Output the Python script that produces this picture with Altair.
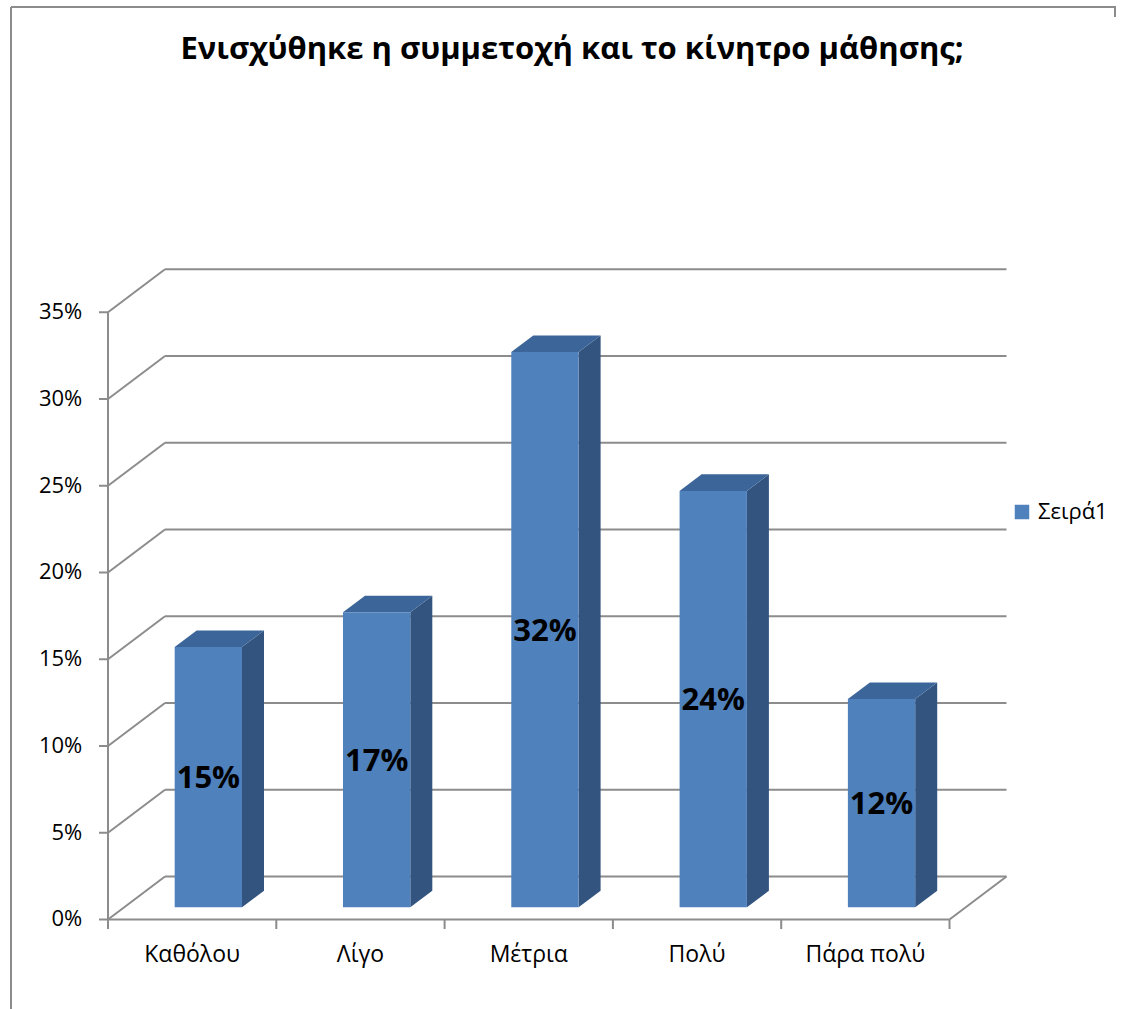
import altair as alt
import pandas as pd

# ---------------- data ----------------
categories = ["Καθόλου", "Λίγο", "Μέτρια", "Πολύ", "Πάρα πολύ"]
values = [15, 17, 32, 24, 12]
series_name = "Σειρά1"
y_ticks = [0, 5, 10, 15, 20, 25, 30, 35]
title_text = "Ενισχύθηκε η συμμετοχή και το κίνητρο μάθησης;"

# ---------------- geometry of the pseudo-3D frame ----------------
W, H = 1124, 1009
X_DOMAIN = [-0.6417, 6.0368]     # category units (front plane 0..5)
Y_DOMAIN = [-5.1585, 52.997]     # percent units (front plane)
DX = 0.3387                      # full depth, in category units
DY = 2.478                       # full depth, in percent units
K1, K2 = 0.284, 0.67             # bar front / back depth fraction
HALF = 0.2                       # half bar width (category units)
NCAT = len(categories)

FRONT = "#4F81BD"
TOP = "#3C6699"
SIDE = "#32547F"
GRID = "#8C8C8C"
FONT = "Open Sans"

xs = alt.Scale(domain=X_DOMAIN, nice=False, zero=False)
ys = alt.Scale(domain=Y_DOMAIN, nice=False, zero=False)

# ---------------- tables built from the arrays ----------------
bars = []
side = []
top = []
for i, (c, v) in enumerate(zip(categories, values)):
    xl = i + 0.5 - HALF + K1 * DX
    xr = i + 0.5 + HALF + K1 * DX
    yb = K1 * DY
    yt = v + K1 * DY
    dd = (K2 - K1) * DX
    dyy = (K2 - K1) * DY
    bars.append(dict(cat=c, series=series_name, xl=xl, xr=xr, yb=yb, yt=yt,
                     xm=(xl + xr) / 2, ym=(yb + yt) / 2, label=f"{v}%"))
    side.append(dict(cat=c, x=xr, y=yb, y2=yt))
    side.append(dict(cat=c, x=xr + dd, y=yb + dyy, y2=yt + dyy))
    top.append(dict(cat=c, y=yt, x=xl, x2=xr))
    top.append(dict(cat=c, y=yt + dyy, x=xl + dd, x2=xr + dd))
bars = pd.DataFrame(bars)
side = pd.DataFrame(side)
top = pd.DataFrame(top)

rules = []
for v in y_ticks:
    rules.append(dict(x=DX, x2=NCAT + DX, y=v + DY, y2=v + DY))      # back wall grid
    rules.append(dict(x=0, x2=DX, y=v, y2=v + DY))                   # side wall diagonal
    rules.append(dict(x=-0.0535, x2=0, y=v, y2=v))                   # y tick
rules.append(dict(x=NCAT, x2=NCAT + DX, y=0, y2=DY))                 # floor right edge
rules.append(dict(x=0, x2=NCAT, y=0, y2=0))                          # front floor edge
rules.append(dict(x=0, x2=0, y=0, y2=y_ticks[-1]))                   # value axis line
for i in range(NCAT + 1):
    rules.append(dict(x=i, x2=i, y=0, y2=-0.55))                     # category ticks
rules = pd.DataFrame(rules)

ytl = pd.DataFrame({"v": y_ticks, "t": [f"{v}%" for v in y_ticks],
                    "xp": [-0.153] * len(y_ticks)})
cats = pd.DataFrame({"cat": categories, "xc": [i + 0.5 for i in range(NCAT)],
                     "yp": [-2.45] * NCAT})

# ---------------- layers ----------------
grid = alt.Chart(rules).mark_rule(color=GRID, strokeWidth=2).encode(
    x=alt.X("x:Q", scale=xs, axis=None), x2="x2:Q",
    y=alt.Y("y:Q", scale=ys, axis=None), y2="y2:Q")

side_l = alt.Chart(side).mark_area(color=SIDE).encode(
    x=alt.X("x:Q", scale=xs, axis=None),
    y=alt.Y("y:Q", scale=ys, axis=None), y2="y2:Q", detail="cat:N")

top_l = alt.Chart(top).mark_area(color=TOP, orient="horizontal").encode(
    y=alt.Y("y:Q", scale=ys, axis=None),
    x=alt.X("x:Q", scale=xs, axis=None), x2="x2:Q", detail="cat:N")

front = alt.Chart(bars).mark_rect().encode(
    x=alt.X("xl:Q", scale=xs, axis=None), x2="xr:Q",
    y=alt.Y("yb:Q", scale=ys, axis=None), y2="yt:Q",
    color=alt.Color("series:N",
                    scale=alt.Scale(domain=[series_name], range=[FRONT]),
                    legend=alt.Legend(title=None, orient="none", legendX=1011, legendY=501,
                                      symbolType="square", symbolSize=210,
                                      symbolStrokeWidth=0, labelFont=FONT,
                                      labelFontSize=22, labelColor="#000000",
                                      labelOffset=5, padding=0)))

bar_text = alt.Chart(bars).mark_text(font=FONT, fontSize=31, fontWeight="bold",
                                     color="#000000", baseline="middle", dy=2).encode(
    x=alt.X("xm:Q", scale=xs, axis=None),
    y=alt.Y("ym:Q", scale=ys, axis=None), text="label:N")

ylab = alt.Chart(ytl).mark_text(font=FONT, fontSize=22, color="#000000",
                                align="right", baseline="middle").encode(
    x=alt.X("xp:Q", scale=xs, axis=None),
    y=alt.Y("v:Q", scale=ys, axis=None), text="t:N")

xlab = alt.Chart(cats).mark_text(font=FONT, fontSize=23, color="#000000",
                                 align="center", baseline="alphabetic").encode(
    x=alt.X("xc:Q", scale=xs, axis=None),
    y=alt.Y("yp:Q", scale=ys, axis=None), text="cat:N")

title = alt.Chart(pd.DataFrame({"t": [title_text]})).mark_text(
    font=FONT, fontSize=31, fontWeight="bold", color="#000000",
    align="center", baseline="alphabetic").encode(
    x=alt.value(572), y=alt.value(59), text="t:N")

frame_df = pd.DataFrame({"k": [0]})
frame_l = alt.Chart(frame_df).mark_rule(color=GRID, strokeWidth=2).encode(
    x=alt.value(11), y=alt.value(7), y2=alt.value(H))
frame_t = alt.Chart(frame_df).mark_rule(color=GRID, strokeWidth=2).encode(
    x=alt.value(11), x2=alt.value(1116), y=alt.value(7))
frame_r = alt.Chart(frame_df).mark_rule(color=GRID, strokeWidth=2).encode(
    x=alt.value(1115), y=alt.value(7), y2=alt.value(17))

chart = alt.layer(frame_l, frame_t, frame_r, grid, side_l, top_l, front,
                  bar_text, ylab, xlab, title).properties(
    width=W, height=H, padding=0,
    autosize=alt.AutoSizeParams(type="none"),
    background="#FFFFFF",
).configure_view(stroke=None)

chart.save("out.html", embed_options={"renderer": "svg", "actions": False})
